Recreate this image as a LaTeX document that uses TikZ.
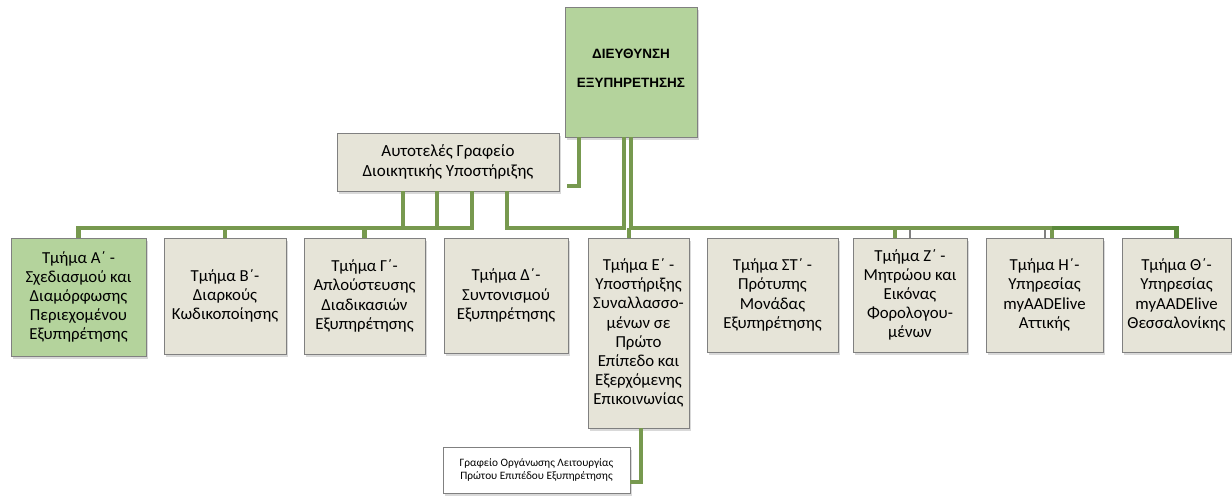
\documentclass[tikz,border=0pt]{standalone}
\usepackage{fontspec}
\setmainfont{Carlito}
\newfontfamily\headfont{Liberation Sans}
\usepackage{tikz}
\usetikzlibrary{shadows}
\definecolor{OrgGreen}{HTML}{B4D39C}
\definecolor{OrgBeige}{HTML}{E6E4D8}
\definecolor{OrgEdge}{HTML}{808080}
\definecolor{OrgLink}{HTML}{77994F}
\definecolor{OrgLinkDark}{HTML}{5B8A3B}

\begin{document}
\begin{tikzpicture}[x=1pt,y=-1pt,
    box/.style={draw=OrgEdge,fill=OrgBeige,align=center,inner sep=1pt,
      font=\fontsize{16.8}{19.2}\selectfont,
      drop shadow={shadow xshift=2pt,shadow yshift=-3pt,opacity=.3}},
    greenbox/.style={box,fill=OrgGreen},
    link/.style={OrgLink,line width=4.5pt},
    linkdark/.style={OrgLinkDark,line width=4.5pt},
    stub/.style={OrgEdge,line width=2pt}]
  \useasboundingbox (0,0) rectangle (1232,496);
  \coordinate (bus) at (0,228);

  % top level
  \node[greenbox,minimum width=132pt,minimum height=130pt,text depth=7pt,
        font=\headfont\fontsize{13.5}{29}\selectfont\bfseries] (dir) at (631,72) {ΔΙΕΥΘΥΝΣΗ\\ΕΞΥΠΗΡΕΤΗΣΗΣ};
  \node[box,minimum width=222pt,minimum height=58pt,font=\fontsize{17}{20}\selectfont] (auto) at (448,162) {Αυτοτελές Γραφείο\\Διοικητικής Υποστήριξης};

  % departments
  \node[greenbox,minimum width=135pt,minimum height=118pt] (secA) at (78.5,297) {Τμήμα Α΄ -\\Σχεδιασμού και\\Διαμόρφωσης\\Περιεχομένου\\Εξυπηρέτησης};
  \node[box,minimum width=122pt,minimum height=116pt] (secB) at (225,296) {Τμήμα Β΄-\\Διαρκούς\\Κωδικοποίησης};
  \node[box,minimum width=121pt,minimum height=116pt] (secG) at (364.5,296) {Τμήμα Γ΄-\\Απλούστευσης\\Διαδικασιών\\Εξυπηρέτησης};
  \node[box,minimum width=124pt,minimum height=115pt] (secD) at (506,295.5) {Τμήμα Δ΄-\\Συντονισμού\\Εξυπηρέτησης};
  \node[box,minimum width=101pt,minimum height=190pt] (secE) at (638.5,333) {Τμήμα Ε΄ -\\Υποστήριξης\\Συναλλασσο-\\μένων σε\\Πρώτο\\Επίπεδο και\\Εξερχόμενης\\Επικοινωνίας};
  \node[box,minimum width=131pt,minimum height=114pt] (secS) at (772.5,295) {Τμήμα ΣΤ΄ -\\Πρότυπης\\Μονάδας\\Εξυπηρέτησης};
  \node[box,minimum width=114pt,minimum height=114pt] (secZ) at (910,295) {Τμήμα Ζ΄ -\\Μητρώου και\\Εικόνας\\Φορολογου-\\μένων};
  \node[box,minimum width=117pt,minimum height=114pt] (secH) at (1044.5,295) {Τμήμα Η΄-\\Υπηρεσίας\\myAADElive\\Αττικής};
  \node[box,minimum width=109pt,minimum height=114pt] (secT) at (1176.5,295) {Τμήμα Θ΄-\\Υπηρεσίας\\myAADElive\\Θεσσαλονίκης};

  \node[box,fill=white,minimum width=187pt,minimum height=46pt,
        font=\fontsize{11.3}{13}\selectfont] (office) at (536.5,470) {Γραφείο Οργάνωσης Λειτουργίας\\Πρώτου Επιπέδου Εξυπηρέτησης};

  % grey stubs
  \draw[stub] (secZ.north |- bus) -- (secZ.north);
  \draw[stub] (secH.north |- bus) -- (secH.north);

  % connectors
  \draw[link] ([xshift=-52pt]dir.south) |- ([xshift=8pt,yshift=-24pt]auto.east);
  \draw[link] ([xshift=-45pt]auto.south) -- ([xshift=-45pt]auto.south |- bus);
  \draw[link] ([xshift=-11pt]auto.south) -- ([xshift=-11pt]auto.south |- bus);
  \draw[link] (secA.north) |- ([xshift=24pt]auto.south |- bus) -- ([xshift=24pt]auto.south);
  \draw[link] (secB.north |- bus) -- (secB.north);
  \draw[link] (secG.north |- bus) -- (secG.north);
  \draw[link] ([xshift=-7pt]dir.south) |- ([xshift=59pt]auto.south |- bus) -- ([xshift=59pt]auto.south);
  \draw[link] ([xshift=-9.5pt]secE.north |- bus) -- ([xshift=-9.5pt]secE.north);
  \draw[link] (dir.south) |- ([xshift=7.5pt]secH.north |- bus) -- ([xshift=7.5pt]secH.north);
  \draw[link] ([xshift=-15pt]secZ.north |- bus) -- ([xshift=-15pt]secZ.north);
  \draw[linkdark] ([xshift=7.5pt]secH.north |- bus) -| (secT.north);
  \draw[link] ([xshift=2.5pt]secE.south) |- ([yshift=-12pt]office.east);
\end{tikzpicture}
\end{document}
